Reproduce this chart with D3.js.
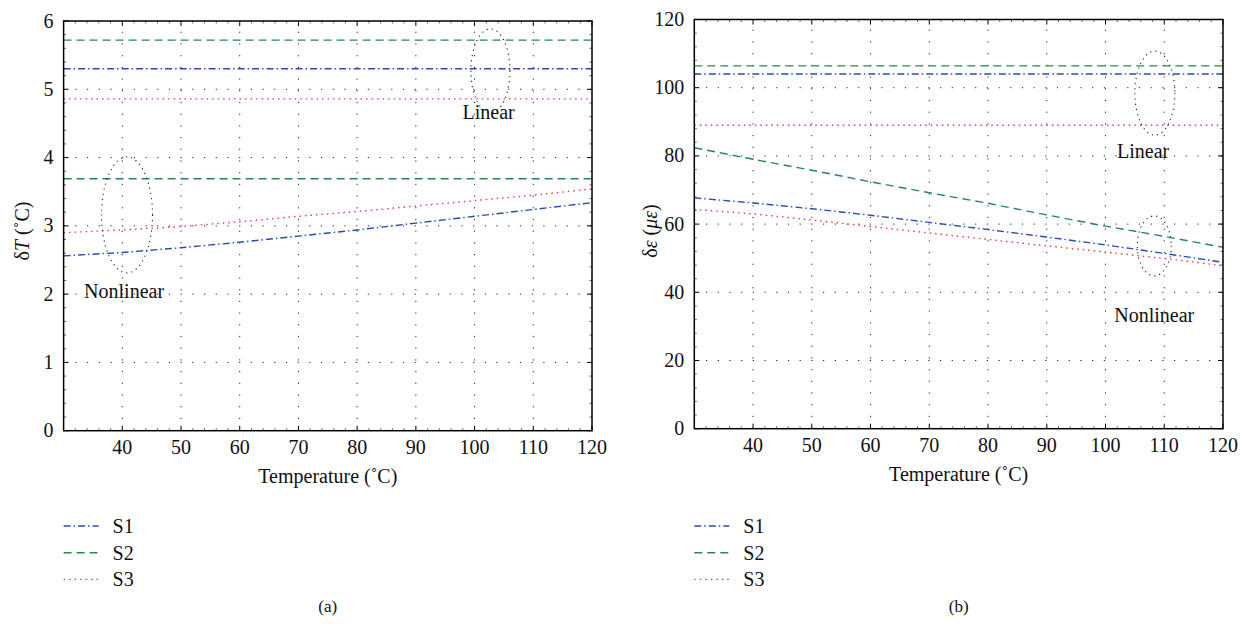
<!DOCTYPE html>
<html>
<head>
<meta charset="utf-8">
<script src="https://cdn.jsdelivr.net/npm/d3@7"></script>
<style>
  body { margin: 0; background: #fff; }
  svg { font-family: "Liberation Serif", "DejaVu Serif", serif; }
  .tick-label { font-size: 20px; fill: #111; }
  .axis-title { font-size: 20px; fill: #111; }
  .note { font-size: 20px; fill: #111; }
  .legend-text { font-size: 20px; fill: #111; }
  .caption { font-size: 17px; fill: #111; }
</style>
</head>
<body>
<div id="chart"></div>
<script>
// temperatures (°C) at which the curves were read
var temps = [30, 40, 50, 60, 70, 80, 90, 100, 110, 120];

// panel (a): deltaT (°C)
var dT_lin_S1 = [5.30, 5.30, 5.30, 5.30, 5.30, 5.30, 5.30, 5.30, 5.30, 5.30];
var dT_lin_S2 = [5.72, 5.72, 5.72, 5.72, 5.72, 5.72, 5.72, 5.72, 5.72, 5.72];
var dT_lin_S3 = [4.86, 4.86, 4.86, 4.86, 4.86, 4.86, 4.86, 4.86, 4.86, 4.86];
var dT_non_S1 = [2.56, 2.61, 2.68, 2.76, 2.85, 2.94, 3.04, 3.14, 3.24, 3.34];
var dT_non_S2 = [3.69, 3.69, 3.69, 3.69, 3.69, 3.69, 3.69, 3.69, 3.69, 3.69];
var dT_non_S3 = [2.90, 2.94, 2.99, 3.06, 3.14, 3.21, 3.29, 3.37, 3.45, 3.54];

// panel (b): delta epsilon (micro strain)
var dE_lin_S1 = [104.0, 104.0, 104.0, 104.0, 104.0, 104.0, 104.0, 104.0, 104.0, 104.0];
var dE_lin_S2 = [106.4, 106.4, 106.4, 106.4, 106.4, 106.4, 106.4, 106.4, 106.4, 106.4];
var dE_lin_S3 = [89.0, 89.0, 89.0, 89.0, 89.0, 89.0, 89.0, 89.0, 89.0, 89.0];
var dE_non_S1 = [67.7, 66.2, 64.5, 62.6, 60.5, 58.4, 56.2, 53.9, 51.4, 48.8];
var dE_non_S2 = [82.4, 79.0, 75.8, 72.4, 69.2, 66.1, 62.7, 59.4, 56.4, 53.2];
var dE_non_S3 = [64.3, 63.0, 61.2, 59.3, 57.4, 55.5, 53.6, 51.8, 49.9, 47.8];

var xTicks = [40, 50, 60, 70, 80, 90, 100, 110, 120];
var yTicksA = [0, 1, 2, 3, 4, 5, 6];
var yTicksB = [0, 20, 40, 60, 80, 100, 120];
var seriesNames = ["S1", "S2", "S3"];

var styles = {
  S1: { color: "#2a4cb0", dash: "7,3,1.5,3" },
  S2: { color: "#268a4a", dash: "8,5" },
  S3: { color: "#f03c3c", dash: "1.5,4" }
};

var svg = d3.select("#chart").append("svg")
  .attr("width", 1241)
  .attr("height", 624);

function panel(opt) {
  var x = d3.scaleLinear().domain([30, 120]).range([opt.left, opt.right]);
  var y = d3.scaleLinear().domain(opt.yDomain).range([opt.bottom, opt.top]);
  var g = svg.append("g");

  // dotted grid
  g.selectAll(".gx").data(xTicks.filter(d => d < 120)).enter().append("line")
    .attr("x1", d => x(d)).attr("x2", d => x(d))
    .attr("y1", opt.bottom).attr("y2", opt.top)
    .attr("stroke", "#222").attr("stroke-width", 1)
    .attr("stroke-dasharray", "1.2,10.5");
  g.selectAll(".gy").data(opt.yTicks.filter(d => d > opt.yDomain[0] && d < opt.yDomain[1])).enter().append("line")
    .attr("x1", opt.left).attr("x2", opt.right)
    .attr("y1", d => y(d)).attr("y2", d => y(d))
    .attr("stroke", "#222").attr("stroke-width", 1)
    .attr("stroke-dasharray", "1.2,10.5");

  // curves
  var line = d3.line().x(d => x(d[0])).y(d => y(d[1]));
  opt.series.forEach(function(s) {
    g.append("path")
      .datum(temps.map((t, i) => [t, s.values[i]]))
      .attr("d", line)
      .attr("fill", "none")
      .attr("stroke", styles[s.name].color)
      .attr("stroke-width", 1.4)
      .attr("stroke-dasharray", styles[s.name].dash);
  });

  // ticks, inside, on all four sides
  var minorX = d3.range(32, 120, 2).filter(d => d % 10 != 0);
  var minorY = opt.minorY;
  xTicks.forEach(function(t) {
    g.append("line").attr("x1", x(t)).attr("x2", x(t)).attr("y1", opt.bottom).attr("y2", opt.bottom - 5).attr("stroke", "#000");
    g.append("line").attr("x1", x(t)).attr("x2", x(t)).attr("y1", opt.top).attr("y2", opt.top + 5).attr("stroke", "#000");
  });
  minorX.forEach(function(t) {
    g.append("line").attr("x1", x(t)).attr("x2", x(t)).attr("y1", opt.bottom).attr("y2", opt.bottom - 2.5).attr("stroke", "#444").attr("stroke-width", 0.8);
    g.append("line").attr("x1", x(t)).attr("x2", x(t)).attr("y1", opt.top).attr("y2", opt.top + 2.5).attr("stroke", "#444").attr("stroke-width", 0.8);
  });
  opt.yTicks.forEach(function(t) {
    g.append("line").attr("x1", opt.left).attr("x2", opt.left + 5).attr("y1", y(t)).attr("y2", y(t)).attr("stroke", "#000");
    g.append("line").attr("x1", opt.right).attr("x2", opt.right - 5).attr("y1", y(t)).attr("y2", y(t)).attr("stroke", "#000");
  });
  minorY.forEach(function(t) {
    g.append("line").attr("x1", opt.left).attr("x2", opt.left + 2.5).attr("y1", y(t)).attr("y2", y(t)).attr("stroke", "#444").attr("stroke-width", 0.8);
    g.append("line").attr("x1", opt.right).attr("x2", opt.right - 2.5).attr("y1", y(t)).attr("y2", y(t)).attr("stroke", "#444").attr("stroke-width", 0.8);
  });

  // frame
  g.append("rect")
    .attr("x", opt.left).attr("y", opt.top)
    .attr("width", opt.right - opt.left).attr("height", opt.bottom - opt.top)
    .attr("fill", "none").attr("stroke", "#000").attr("stroke-width", 1.5);

  // tick labels
  g.selectAll(".xl").data(xTicks).enter().append("text")
    .attr("class", "tick-label")
    .attr("x", d => x(d)).attr("y", opt.bottom + 23)
    .attr("text-anchor", "middle")
    .text(d => d);
  g.selectAll(".yl").data(opt.yTicks).enter().append("text")
    .attr("class", "tick-label")
    .attr("x", opt.left - 10).attr("y", d => y(d) + 6.5)
    .attr("text-anchor", "end")
    .text(d => d);

  // axis titles
  g.append("text").attr("class", "axis-title")
    .attr("x", (opt.left + opt.right) / 2).attr("y", opt.bottom + 52)
    .attr("text-anchor", "middle")
    .text("Temperature (\u02DAC)");
  var yt = g.append("text").attr("class", "axis-title")
    .attr("transform", `translate(${opt.yTitleX},${opt.yTitleY}) rotate(-90)`)
    .attr("text-anchor", "middle");
  opt.yTitle.forEach(function(p) {
    yt.append("tspan").attr("font-style", p[1] ? "italic" : null).text(p[0]);
  });

  // annotations: dotted ellipses and labels
  opt.notes.forEach(function(n) {
    g.append("ellipse")
      .attr("cx", x(n.ex)).attr("cy", y(n.ey))
      .attr("rx", n.rx).attr("ry", n.ry)
      .attr("fill", "none").attr("stroke", "#222").attr("stroke-width", 1.1)
      .attr("stroke-dasharray", "1.2,4");
    g.append("text").attr("class", "note")
      .attr("x", x(n.tx)).attr("y", y(n.ty))
      .attr("text-anchor", "middle")
      .text(n.label);
  });

  // legend
  var leg = g.selectAll(".legend").data(seriesNames).enter().append("g")
    .attr("class", "legend")
    .attr("transform", (d, i) => `translate(${opt.left}, ${526 + i * 26.7})`);
  leg.append("line")
    .attr("x1", 0).attr("x2", 35)
    .attr("stroke", d => styles[d].color)
    .attr("stroke-width", 1.4)
    .attr("stroke-dasharray", d => styles[d].dash);
  leg.append("text").attr("class", "legend-text")
    .attr("x", 49).attr("y", 6.8)
    .text(d => d);

  // caption
  g.append("text").attr("class", "caption")
    .attr("x", (opt.left + opt.right) / 2).attr("y", 612)
    .attr("text-anchor", "middle")
    .text(opt.caption);
}

panel({
  left: 63.6, right: 592, top: 21, bottom: 430.7,
  yDomain: [0, 6], yTicks: yTicksA,
  minorY: d3.range(0.2, 6, 0.2).filter(d => Math.abs(d - Math.round(d)) > 0.01),
  series: [
    { name: "S1", values: dT_lin_S1 }, { name: "S2", values: dT_lin_S2 }, { name: "S3", values: dT_lin_S3 },
    { name: "S1", values: dT_non_S1 }, { name: "S2", values: dT_non_S2 }, { name: "S3", values: dT_non_S3 }
  ],
  yTitle: [["\u03B4", false], ["T", true], [" (\u02DAC)", false]],
  yTitleX: 29, yTitleY: 231,
  notes: [
    { label: "Linear", ex: 102.7, ey: 5.27, rx: 19.5, ry: 42, tx: 102.4, ty: 4.57 },
    { label: "Nonlinear", ex: 40.8, ey: 3.16, rx: 25.5, ry: 58, tx: 40.3, ty: 1.94 }
  ],
  caption: "(a)"
});

panel({
  left: 694.3, right: 1223, top: 19.5, bottom: 428.7,
  yDomain: [0, 120], yTicks: yTicksB,
  minorY: d3.range(4, 120, 4).filter(d => d % 20 != 0),
  series: [
    { name: "S1", values: dE_lin_S1 }, { name: "S2", values: dE_lin_S2 }, { name: "S3", values: dE_lin_S3 },
    { name: "S1", values: dE_non_S1 }, { name: "S2", values: dE_non_S2 }, { name: "S3", values: dE_non_S3 }
  ],
  yTitle: [["\u03B4", false], ["\u03B5", true], [" (", false], ["\u03BC\u03B5", true], [")", false]],
  yTitleX: 657, yTitleY: 231,
  notes: [
    { label: "Linear", ex: 108.4, ey: 98.4, rx: 20, ry: 42, tx: 106.4, ty: 79.3 },
    { label: "Nonlinear", ex: 108.3, ey: 53.6, rx: 17, ry: 30, tx: 108.3, ty: 31.4 }
  ],
  caption: "(b)"
});
</script>
</body>
</html>
